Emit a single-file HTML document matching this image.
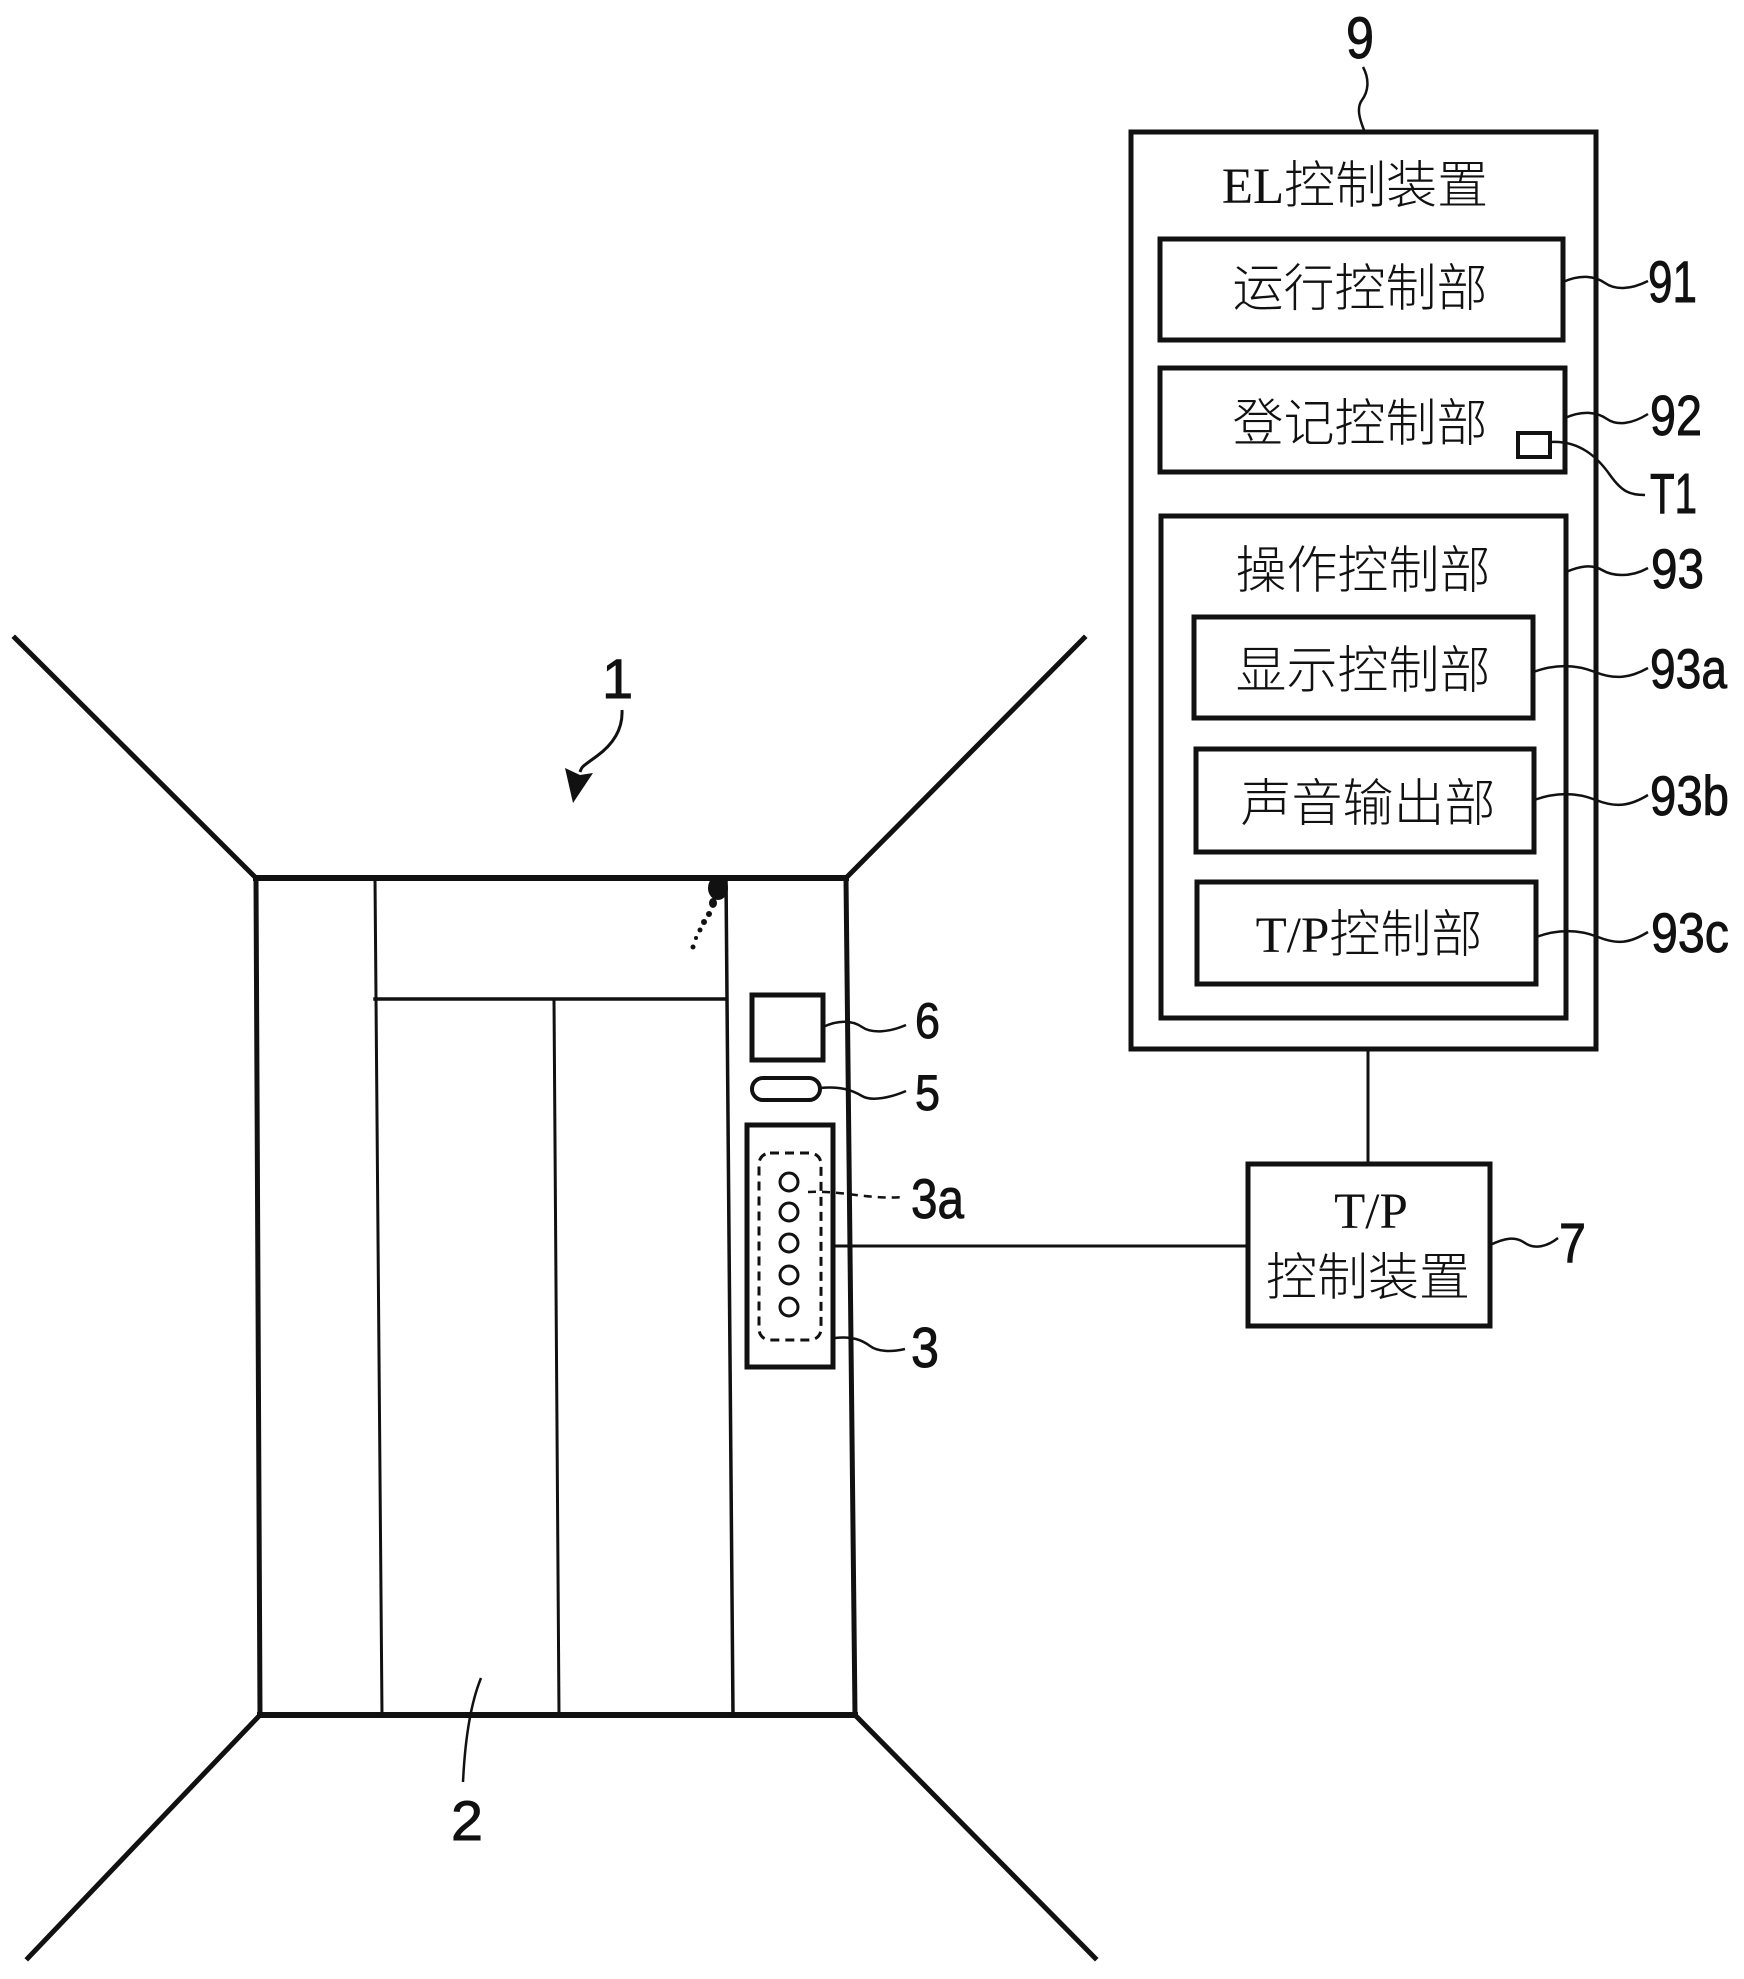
<!DOCTYPE html>
<html>
<head>
<meta charset="utf-8">
<style>
  html, body { margin: 0; padding: 0; background: #ffffff; }
  svg { display: block; }
  .cjk { font-family: "Liberation Serif", "Noto Sans CJK SC", sans-serif; font-size: 51px; fill: #111; font-weight: 300; }
  .lbl { font-family: "Liberation Sans", "DejaVu Sans", sans-serif; fill: #111; stroke: #111; stroke-width: 0.9px; }
</style>
</head>
<body>
<svg width="1744" height="1979" viewBox="0 0 1744 1979" xmlns="http://www.w3.org/2000/svg">
  <rect x="0" y="0" width="1744" height="1979" fill="#ffffff"/>

  <!-- ================= Elevator hall ================= -->
  <g stroke="#111" fill="none" stroke-linecap="square">
    <line x1="15" y1="638" x2="256" y2="878" stroke-width="5"/>
    <line x1="1084" y1="638" x2="846" y2="878" stroke-width="5"/>
    <line x1="260" y1="1715" x2="28" y2="1958" stroke-width="5"/>
    <line x1="855" y1="1715" x2="1095" y2="1958" stroke-width="5"/>
    <line x1="256" y1="878" x2="846" y2="878" stroke-width="6"/>
    <line x1="260" y1="1715" x2="855" y2="1715" stroke-width="6"/>
    <line x1="256" y1="878" x2="260" y2="1715" stroke-width="5"/>
    <line x1="846" y1="878" x2="855" y2="1715" stroke-width="5"/>
    <line x1="375" y1="878" x2="382" y2="1715" stroke-width="3"/>
    <line x1="726" y1="878" x2="733" y2="1715" stroke-width="3.5"/>
    <line x1="375" y1="999" x2="726" y2="999" stroke-width="3.5"/>
    <line x1="554" y1="999" x2="559" y2="1715" stroke-width="3"/>
  </g>

  <!-- ink blob -->
  <g fill="#111">
    <ellipse cx="718" cy="888" rx="10" ry="12"/>
    <ellipse cx="713" cy="903" rx="4" ry="5"/>
    <circle cx="709" cy="914" r="3"/>
    <circle cx="704" cy="922" r="3"/>
    <circle cx="700" cy="930" r="2.5"/>
    <circle cx="696" cy="938" r="2"/>
    <circle cx="693" cy="947" r="2.5"/>
  </g>

  <!-- label 1 with arrow -->
  <text class="lbl" x="602" y="698" font-size="56">1</text>
  <path d="M622,710 C623,730 612,745 597,756 S582,766 580,772" stroke="#111" stroke-width="3" fill="none"/>
  <polygon points="573,803 565,768 580,775 593,773" fill="#111"/>

  <!-- label 2 -->
  <path d="M481,1678 C470,1705 465,1740 463,1782" stroke="#111" stroke-width="2.5" fill="none"/>
  <text class="lbl" x="451" y="1840" font-size="56" textLength="32" lengthAdjust="spacingAndGlyphs">2</text>

  <!-- ================= Hall panels ================= -->
  <g stroke="#111" fill="none">
    <rect x="752" y="995" width="71" height="65" stroke-width="5"/>
    <rect x="752" y="1078" width="68" height="22" rx="11" ry="11" stroke-width="4"/>
    <rect x="747" y="1125" width="86" height="242" stroke-width="5"/>
    <rect x="759" y="1153" width="62" height="187" rx="11" ry="11" stroke-width="3" stroke-dasharray="9 6"/>
    <circle cx="789" cy="1182" r="9" stroke-width="3"/>
    <circle cx="789" cy="1212" r="9" stroke-width="3"/>
    <circle cx="789" cy="1243" r="9" stroke-width="3"/>
    <circle cx="789" cy="1275" r="9" stroke-width="3"/>
    <circle cx="789" cy="1307" r="9" stroke-width="3"/>
  </g>

  <!-- panel leaders -->
  <g stroke="#111" stroke-width="2.5" fill="none">
    <path d="M823,1027 C838,1020 852,1020 862,1027 S890,1032 906,1025"/>
    <path d="M820,1088 C840,1086 852,1090 862,1096 S892,1097 906,1091"/>
    <path d="M808,1192 C840,1190 870,1200 903,1197" stroke-dasharray="8 6"/>
    <path d="M835,1338 C852,1336 862,1340 870,1346 S892,1352 905,1349"/>
  </g>
  <text class="lbl" x="915" y="1038" font-size="50" textLength="25" lengthAdjust="spacingAndGlyphs">6</text>
  <text class="lbl" x="915" y="1110" font-size="50" textLength="25" lengthAdjust="spacingAndGlyphs">5</text>
  <text class="lbl" x="911" y="1218" font-size="56" textLength="53" lengthAdjust="spacingAndGlyphs">3a</text>
  <text class="lbl" x="911" y="1367" font-size="57" textLength="28" lengthAdjust="spacingAndGlyphs">3</text>

  <!-- connector panel 3 -> T/P -->
  <line x1="833" y1="1246" x2="1248" y2="1246" stroke="#111" stroke-width="3"/>

  <!-- ================= T/P control device ================= -->
  <rect x="1248" y="1164" width="242" height="162" stroke="#111" stroke-width="5" fill="none"/>
  <text class="cjk" x="1371" y="1228" text-anchor="middle" font-size="50">T/P</text>
  <text class="cjk" x="1368" y="1295" text-anchor="middle">控制装置</text>
  <path d="M1490,1245 C1505,1238 1515,1236 1525,1243 S1548,1246 1558,1238" stroke="#111" stroke-width="2.5" fill="none"/>
  <text class="lbl" x="1559" y="1262" font-size="56" textLength="27" lengthAdjust="spacingAndGlyphs">7</text>

  <!-- connector EL -> T/P -->
  <line x1="1368" y1="1049" x2="1368" y2="1164" stroke="#111" stroke-width="3"/>

  <!-- ================= EL control device ================= -->
  <g stroke="#111" fill="none">
    <rect x="1131" y="132" width="465" height="917" stroke-width="5"/>
    <rect x="1160" y="239" width="403" height="101" stroke-width="5"/>
    <rect x="1160" y="368" width="405" height="104" stroke-width="5"/>
    <rect x="1518" y="433" width="32" height="24" stroke-width="4"/>
    <rect x="1161" y="516" width="405" height="502" stroke-width="5"/>
    <rect x="1194" y="617" width="339" height="101" stroke-width="5"/>
    <rect x="1196" y="749" width="338" height="103" stroke-width="5"/>
    <rect x="1197" y="882" width="339" height="102" stroke-width="5"/>
  </g>

  <text class="cjk" x="1355" y="203" text-anchor="middle" font-size="52">EL控制装置</text>
  <text class="cjk" x="1360" y="306" text-anchor="middle">运行控制部</text>
  <text class="cjk" x="1360" y="441" text-anchor="middle">登记控制部</text>
  <text class="cjk" x="1363" y="588" text-anchor="middle">操作控制部</text>
  <text class="cjk" x="1363" y="688" text-anchor="middle">显示控制部</text>
  <text class="cjk" x="1368" y="821" text-anchor="middle">声音输出部</text>
  <text class="cjk" x="1369" y="952" text-anchor="middle">T/P控制部</text>

  <!-- leaders right side -->
  <g stroke="#111" stroke-width="2.5" fill="none">
    <path d="M1363,67 C1370,80 1368,92 1362,100 S1360,120 1364,130"/>
    <path d="M1563,282 C1580,274 1595,276 1605,283 S1630,290 1648,281"/>
    <path d="M1565,418 C1582,410 1597,412 1607,419 S1632,424 1648,414"/>
    <path d="M1550,442 C1580,440 1598,458 1610,475 S1630,495 1645,495"/>
    <path d="M1566,572 C1580,566 1592,564 1602,570 S1630,578 1648,568"/>
    <path d="M1533,672 C1555,664 1575,664 1595,672 S1630,678 1648,668"/>
    <path d="M1534,800 C1556,792 1576,792 1596,800 S1630,806 1648,795"/>
    <path d="M1536,937 C1558,929 1578,929 1598,937 S1630,943 1648,932"/>
  </g>

  <text class="lbl" x="1346" y="58" font-size="58" textLength="28" lengthAdjust="spacingAndGlyphs">9</text>
  <text class="lbl" x="1648" y="302" font-size="58" textLength="49" lengthAdjust="spacingAndGlyphs">91</text>
  <text class="lbl" x="1650" y="435" font-size="57" textLength="52" lengthAdjust="spacingAndGlyphs">92</text>
  <text class="lbl" x="1650" y="513" font-size="57" textLength="47" lengthAdjust="spacingAndGlyphs">T1</text>
  <text class="lbl" x="1651" y="588" font-size="56" textLength="53" lengthAdjust="spacingAndGlyphs">93</text>
  <text class="lbl" x="1650" y="688" font-size="56" textLength="77" lengthAdjust="spacingAndGlyphs">93a</text>
  <text class="lbl" x="1650" y="815" font-size="56" textLength="79" lengthAdjust="spacingAndGlyphs">93b</text>
  <text class="lbl" x="1651" y="952" font-size="56" textLength="78" lengthAdjust="spacingAndGlyphs">93c</text>
</svg>
</body>
</html>
